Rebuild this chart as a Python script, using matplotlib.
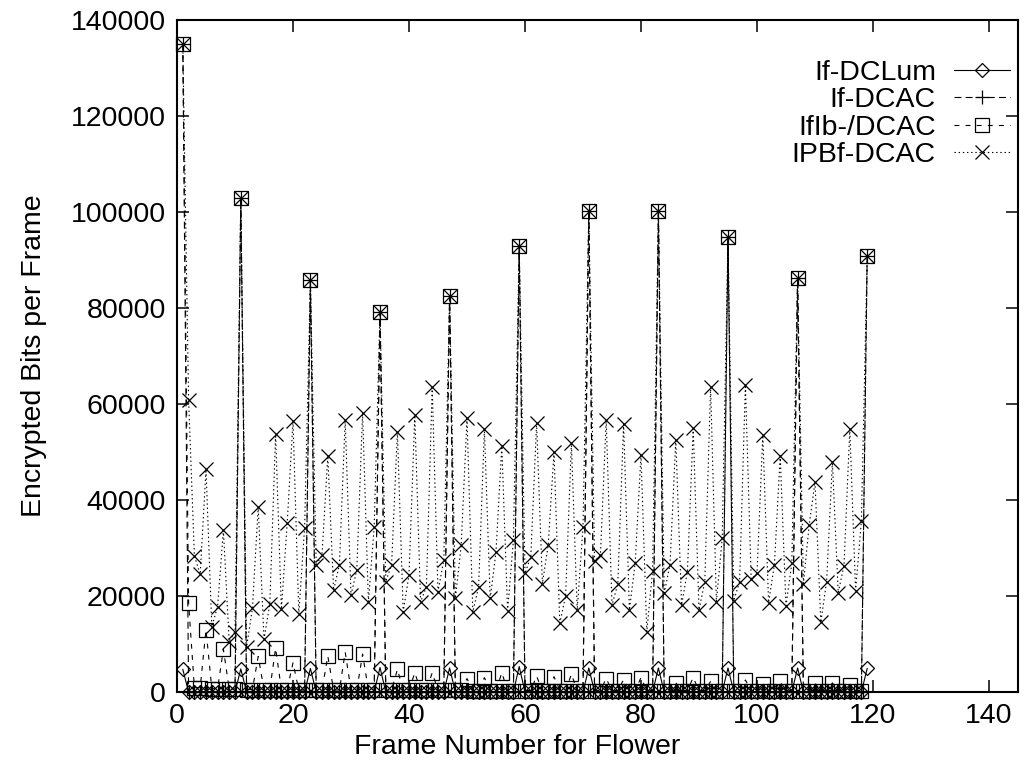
import matplotlib
matplotlib.use('Agg')
import matplotlib.pyplot as plt

plt.rcParams['font.family'] = ['Liberation Sans', 'DejaVu Sans']
plt.rcParams['lines.scale_dashes'] = False

# frame numbers 1..119 (encoding order, GOP of 12)
frames = list(range(1, 120))

# If-DCLum: only the DC luminance of I frames is encrypted
dclum_bits = [4700, 0, 0, 0, 0, 0, 0, 0, 0, 0,
              4800, 0, 0, 0, 0, 0, 0, 0, 0, 0,
              0, 0, 4900, 0, 0, 0, 0, 0, 0, 0,
              0, 0, 0, 0, 5100, 0, 0, 0, 0, 0,
              0, 0, 0, 0, 0, 0, 5000, 0, 0, 0,
              0, 0, 0, 0, 0, 0, 0, 0, 5300, 0,
              0, 0, 0, 0, 0, 0, 0, 0, 0, 0,
              5000, 0, 0, 0, 0, 0, 0, 0, 0, 0,
              0, 0, 5000, 0, 0, 0, 0, 0, 0, 0,
              0, 0, 0, 0, 5000, 0, 0, 0, 0, 0,
              0, 0, 0, 0, 0, 0, 5000, 0, 0, 0,
              0, 0, 0, 0, 0, 0, 0, 0, 4900]

# If-DCAC: DC+AC of I frames
dcac_bits = [135000, 0, 0, 0, 0, 0, 0, 0, 0, 0,
             103000, 0, 0, 0, 0, 0, 0, 0, 0, 0,
             0, 0, 85800, 0, 0, 0, 0, 0, 0, 0,
             0, 0, 0, 0, 79200, 0, 0, 0, 0, 0,
             0, 0, 0, 0, 0, 0, 82400, 0, 0, 0,
             0, 0, 0, 0, 0, 0, 0, 0, 93000, 0,
             0, 0, 0, 0, 0, 0, 0, 0, 0, 0,
             100200, 0, 0, 0, 0, 0, 0, 0, 0, 0,
             0, 0, 100200, 0, 0, 0, 0, 0, 0, 0,
             0, 0, 0, 0, 94700, 0, 0, 0, 0, 0,
             0, 0, 0, 0, 0, 0, 86300, 0, 0, 0,
             0, 0, 0, 0, 0, 0, 0, 0, 90900]

# IfIb-/DCAC: I frames plus intra blocks of the other frames
iflb_bits = [135000, 18500, 900, 900, 13000, 700, 700, 8900, 600, 600,
             103000, 500, 500, 7400, 500, 500, 9100, 500, 500, 6100,
             400, 400, 85800, 400, 400, 7500, 400, 400, 8300, 400,
             400, 7900, 400, 400, 79200, 400, 400, 4700, 400, 400,
             4000, 400, 400, 4000, 400, 400, 82400, 400, 400, 2800,
             300, 300, 3000, 300, 300, 4000, 300, 300, 93000, 300,
             300, 3300, 300, 300, 3200, 300, 300, 3700, 300, 300,
             100200, 300, 300, 2800, 300, 300, 2600, 300, 300, 3000,
             300, 300, 100200, 300, 300, 1900, 300, 300, 3000, 300,
             300, 2200, 300, 300, 94700, 300, 300, 2500, 300, 300,
             1700, 300, 300, 2200, 300, 300, 86300, 300, 300, 1800,
             300, 300, 1900, 300, 300, 1500, 300, 300, 90900]

# IPBf-DCAC: DC+AC of every frame
ipbf_bits = [135000, 60800, 28400, 24500, 46400, 13600, 17800, 33700, 10500, 12600,
             103000, 9400, 17400, 38600, 11000, 18300, 53700, 17200, 35200, 56500,
             16200, 34200, 85800, 26500, 28500, 49200, 21200, 26500, 56700, 20200,
             25400, 58200, 18800, 34400, 79200, 23000, 26500, 54200, 16700, 24400,
             57700, 18800, 21900, 63500, 20900, 27500, 82400, 19500, 30600, 57000,
             16700, 21900, 54700, 19500, 29200, 51200, 16900, 31700, 93000, 24700,
             28200, 56000, 22600, 30600, 49900, 14300, 20000, 51800, 17100, 34300,
             100200, 27200, 28500, 56700, 18100, 22500, 55800, 17100, 26900, 49400,
             12600, 25300, 100200, 20600, 26500, 52500, 18100, 25100, 54900, 17100,
             23000, 63500, 18800, 32000, 94700, 19000, 23000, 64000, 23500, 24700,
             53500, 18600, 26500, 49200, 18000, 26800, 86300, 22600, 34800, 43800,
             14500, 23000, 48000, 20700, 26300, 54800, 21100, 35700, 90900]

labels = ['If-DCLum', 'If-DCAC', 'IfIb-/DCAC', 'IPBf-DCAC']
x_ticks = [0, 20, 40, 60, 80, 100, 120, 140]
y_ticks = [0, 20000, 40000, 60000, 80000, 100000, 120000, 140000]

fig = plt.figure(figsize=(10.34, 7.71), dpi=100)
ax = fig.add_axes([177 / 1034, 1 - 692 / 771, (1018 - 177) / 1034, 672 / 771])

common = dict(color='black', lw=0.8, mfc='none', mec='black', mew=0.9, clip_on=False)
ax.plot(frames, dclum_bits, ls='-', marker='D', ms=7.5, label=labels[0], **common)
ax.plot(frames, dcac_bits, ls=(0, (5, 3)), marker='+', ms=10, label=labels[1], **common)
ax.plot(frames, iflb_bits, ls=(0, (3.5, 4.5)), marker='s', ms=10, label=labels[2], **common)
ax.plot(frames, ipbf_bits, ls=(0, (1, 2)), marker='x', ms=10.5, label=labels[3], **common)

ax.set_xlim(0, 145)
ax.set_ylim(0, 140000)
ax.set_xticks(x_ticks)
ax.set_yticks(y_ticks)
ax.set_xticklabels([str(v) for v in x_ticks])
ax.set_yticklabels([str(v) for v in y_ticks])
ax.tick_params(direction='in', length=8.5, width=1.1, top=True, right=True,
               labelsize=20.5, pad=8, colors='black')
for s in ax.spines.values():
    s.set_linewidth(1.5)

ax.set_xlabel('Frame Number for Flower', fontsize=20.5)
ax.xaxis.set_label_coords(0.404, -0.062)
ax.set_ylabel('Encrypted Bits per Frame', fontsize=20.5)
ax.yaxis.set_label_coords(-0.155, 0.5)

# markerfirst=False right-aligns each row, so the labels end at the same x
ax.legend(loc='upper right', bbox_to_anchor=(1010 / 1034, 1 - 60 / 771),
          bbox_transform=fig.transFigure, frameon=False, markerfirst=False,
          handlelength=1.95, handletextpad=0.65, labelspacing=0.05,
          borderpad=0, borderaxespad=0, numpoints=1, fontsize=20.5)

fig.savefig('out.png', dpi=100)
